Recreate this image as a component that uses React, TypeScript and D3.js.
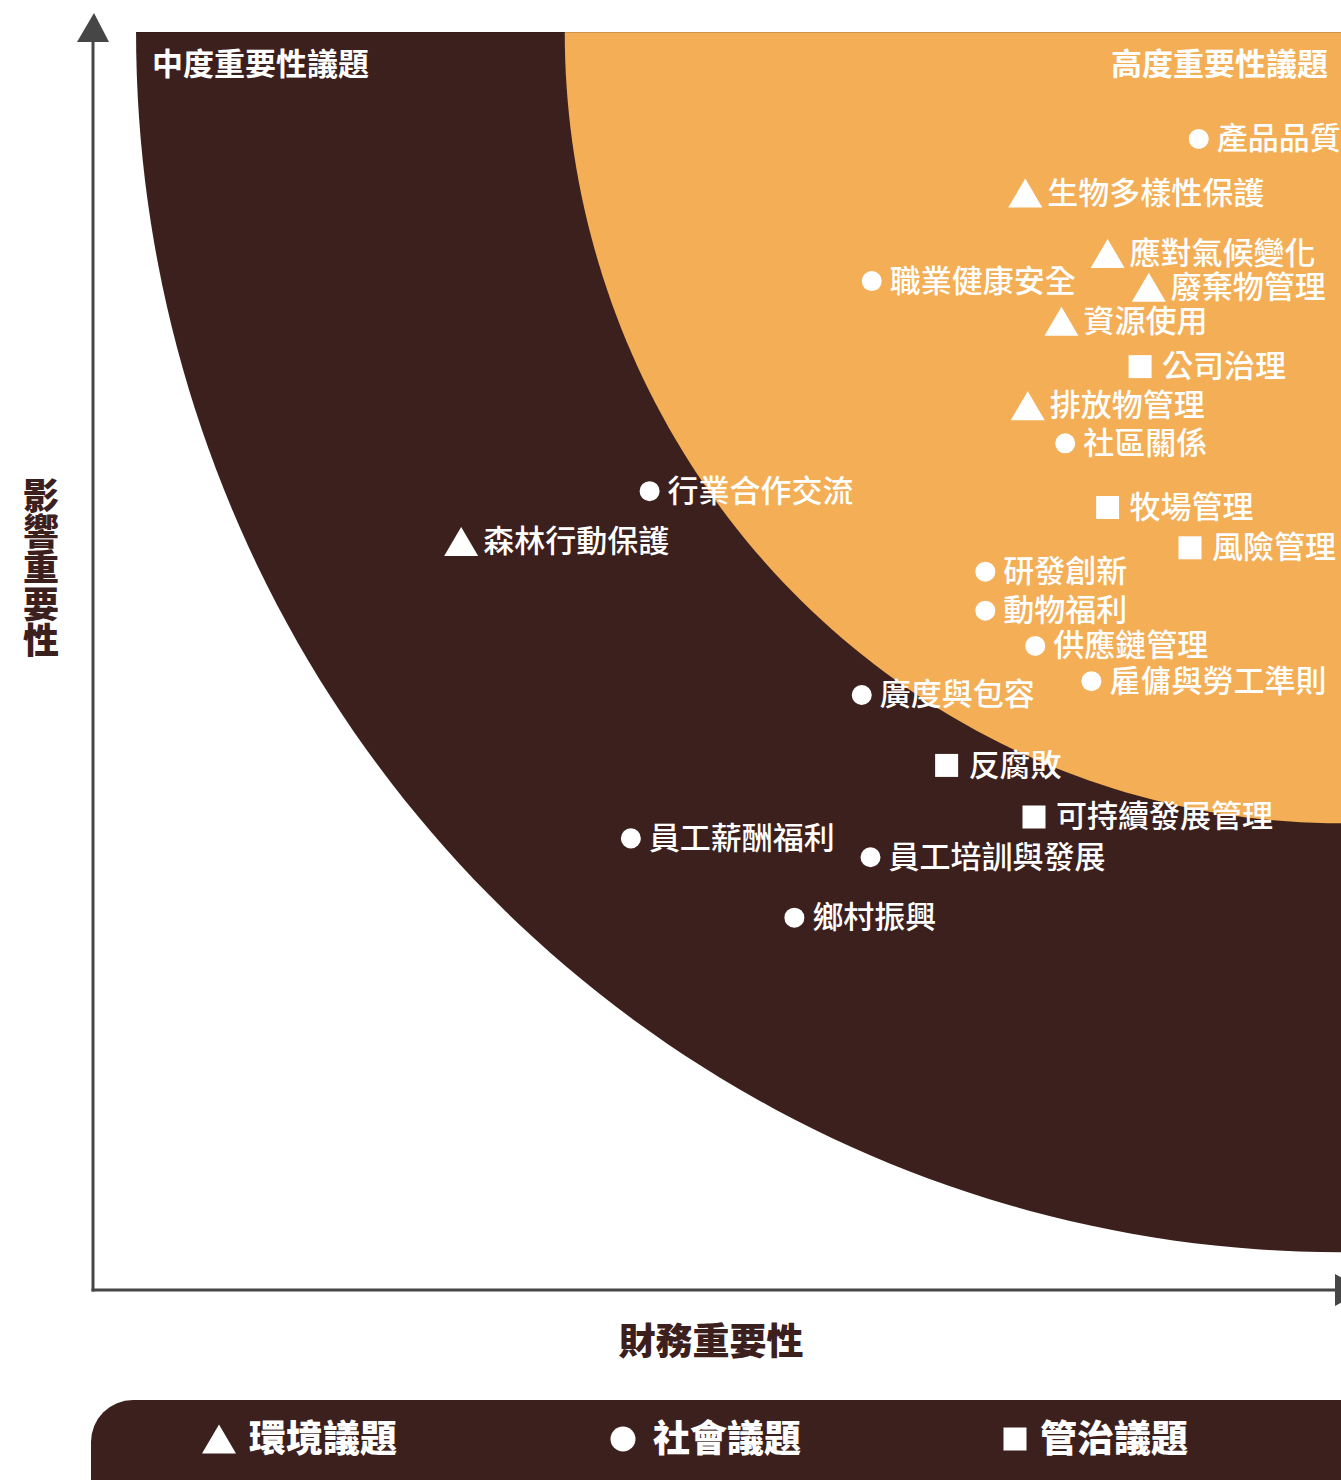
import { useEffect, useRef } from "react";
import * as d3 from "d3";

// topic names, type (env / soc / gov), financial materiality (x), impact materiality (y)
const topics = [
  "產品品質",
  "生物多樣性保護",
  "應對氣候變化",
  "職業健康安全",
  "廢棄物管理",
  "資源使用",
  "公司治理",
  "排放物管理",
  "社區關係",
  "行業合作交流",
  "森林行動保護",
  "牧場管理",
  "風險管理",
  "研發創新",
  "動物福利",
  "供應鏈管理",
  "雇傭與勞工準則",
  "廣度與包容",
  "反腐敗",
  "可持續發展管理",
  "員工薪酬福利",
  "員工培訓與發展",
  "鄉村振興",
];
const topicTypes = [
  "soc", "env", "env", "soc", "env", "env", "gov", "env", "soc", "soc", "env", "gov",
  "gov", "soc", "soc", "soc", "soc", "soc", "gov", "gov", "soc", "soc", "soc",
];
const financial = [
  8.86, 7.47, 8.13, 6.24, 8.46, 7.76, 8.39, 7.49, 7.79, 4.46, 2.95, 8.13,
  8.79, 7.15, 7.15, 7.55, 8.0, 6.16, 6.84, 7.54, 4.31, 6.23, 5.62,
];
const impact = [
  9.15, 8.72, 8.24, 8.02, 7.97, 7.7, 7.34, 7.03, 6.73, 6.35, 5.95, 6.22,
  5.9, 5.71, 5.4, 5.12, 4.84, 4.73, 4.17, 3.76, 3.59, 3.44, 2.96,
];

// zone boundaries (in axis units, measured from the top-right corner)
const zoneRadiusX = [9.655, 6.22];
const zoneRadiusY = [9.7, 6.29];
const zoneColors = ["#3c201d", "#f3ae56"];
const zoneTitles = ["中度重要性議題", "高度重要性議題"];

const legendLabels = ["環境議題", "社會議題", "管治議題"];
const legendTypes = ["env", "soc", "gov"];

const xTitle = "財務重要性";
const yTitle = "影響重要性";

const FONT = "'Noto Sans CJK TC', 'Noto Sans CJK SC', sans-serif";

// draws a marker shape centred on (cx, cy)
function markerPath(type: string, cx: number, cy: number, s: number) {
  if (type === "env") {
    const w = 17 * s;
    const h = 14.5 * s;
    return `M${cx - w},${cy + h}L${cx + w},${cy + h}L${cx},${cy - h}Z`;
  }
  if (type === "gov") {
    const h = 11.5 * s;
    return `M${cx - h},${cy - h}h${2 * h}v${2 * h}h${-2 * h}Z`;
  }
  const r = 10 * s;
  return `M${cx - r},${cy}a${r},${r} 0 1,0 ${2 * r},0a${r},${r} 0 1,0 ${-2 * r},0Z`;
}

const App: React.FC = () => {
  const ref = useRef<HTMLDivElement>(null);

  useEffect(() => {
    const W = 1341;
    const H = 1480;
    const left = 93;
    const top = 32;
    const bottom = 1290;
    const lift = 3; // glyphs sit a little low with central baseline

    const svg = d3
      .select(ref.current)
      .html("")
      .append("svg")
      .attr("width", W)
      .attr("height", H)
      .style("display", "block")
      .style("font-family", FONT);

    const x = d3.scaleLinear().domain([0, 10]).range([left, W]);
    const y = d3.scaleLinear().domain([0, 10]).range([bottom, top]);

    svg
      .append("clipPath")
      .attr("id", "plot-clip")
      .append("rect")
      .attr("x", left)
      .attr("y", top)
      .attr("width", W - left)
      .attr("height", bottom - top);

    // materiality zones: quarter ellipses around the top-right corner
    const zones = svg.append("g").attr("clip-path", "url(#plot-clip)");
    zoneColors.forEach((color, zi) => {
      const angles = d3.range(0, 91).map((d) => (d / 180) * Math.PI);
      const pts: [number, number][] = angles.map((a) => [
        x(10 - zoneRadiusX[zi] * Math.cos(a)),
        y(10 - zoneRadiusY[zi] * Math.sin(a)),
      ]);
      pts.push([x(10), y(10)]);
      zones
        .append("path")
        .attr("d", d3.line()(pts) + "Z")
        .attr("fill", color);
    });
    zones
      .append("line")
      .attr("x1", x(10 - zoneRadiusX[0]))
      .attr("x2", W)
      .attr("y1", top + 0.5)
      .attr("y2", top + 0.5)
      .attr("stroke", "rgba(0,0,0,0.15)");

    // zone titles
    svg
      .append("text")
      .attr("x", 152)
      .attr("y", 64 - lift)
      .attr("dominant-baseline", "central")
      .attr("fill", "#fff")
      .attr("font-size", 31)
      .attr("font-weight", 700)
      .text(zoneTitles[0]);
    svg
      .append("text")
      .attr("x", 1328)
      .attr("y", 64 - lift)
      .attr("text-anchor", "end")
      .attr("dominant-baseline", "central")
      .attr("fill", "#fff")
      .attr("font-size", 31)
      .attr("font-weight", 700)
      .text(zoneTitles[1]);

    // axes with arrow heads
    const axisColor = "#464646";
    svg
      .append("line")
      .attr("x1", left)
      .attr("x2", left)
      .attr("y1", 40)
      .attr("y2", bottom + 1.5)
      .attr("stroke", axisColor)
      .attr("stroke-width", 3);
    svg
      .append("line")
      .attr("x1", left - 1.5)
      .attr("x2", 1336)
      .attr("y1", bottom)
      .attr("y2", bottom)
      .attr("stroke", axisColor)
      .attr("stroke-width", 3);
    svg
      .append("path")
      .attr("d", `M${left - 16},42L${left + 16},42L${left + 1},13Z`)
      .attr("fill", axisColor);
    svg
      .append("path")
      .attr("d", `M1335,${bottom - 16}L1335,${bottom + 16}L1364,${bottom}Z`)
      .attr("fill", axisColor);

    // axis titles
    svg
      .append("text")
      .attr("x", 711)
      .attr("y", 1342 - lift)
      .attr("text-anchor", "middle")
      .attr("dominant-baseline", "central")
      .attr("fill", "#3c201d")
      .attr("font-size", 37)
      .attr("font-weight", 900)
      .text(xTitle);
    svg
      .append("text")
      .attr("x", 41)
      .attr("y", 477)
      .style("writing-mode", "vertical-rl")
      .style("text-orientation", "upright")
      .attr("letter-spacing", 0.4)
      .attr("fill", "#3c201d")
      .attr("font-size", 36)
      .attr("font-weight", 900)
      .text(yTitle);

    // topics
    const items = topics.map((name, i) => ({
      name,
      type: topicTypes[i],
      fx: financial[i],
      iy: impact[i],
    }));
    const pts = svg.append("g");
    pts
      .selectAll("path")
      .data(items)
      .enter()
      .append("path")
      .attr("d", (d) => markerPath(d.type, x(d.fx), y(d.iy), 1))
      .attr("fill", "#fff");
    pts
      .selectAll("text")
      .data(items)
      .enter()
      .append("text")
      .attr("x", (d) => x(d.fx) + (d.type === "soc" ? 18 : 22))
      .attr("y", (d) => y(d.iy) - lift)
      .attr("dominant-baseline", "central")
      .attr("fill", "#fff")
      .attr("font-size", 31)
      .attr("font-weight", 500)
      .text((d) => d.name);

    // legend bar
    svg
      .append("rect")
      .attr("x", 91)
      .attr("y", 1400)
      .attr("width", W + 100)
      .attr("height", 140)
      .attr("rx", 42)
      .attr("fill", "#3c201d");
    const lx = d3.scalePoint<string>().domain(legendLabels).range([219, 1027]);
    const nudge = [0, 0, -12];
    const legend = svg
      .append("g")
      .selectAll("g")
      .data(legendLabels)
      .enter()
      .append("g");
    legend
      .append("path")
      .attr("d", (d, i) =>
        markerPath(legendTypes[i], lx(d)! + nudge[i], 1439, i === 1 ? 1.25 : 1)
      )
      .attr("fill", "#fff");
    legend
      .append("text")
      .attr("x", (d, i) => lx(d)! + nudge[i] + (i === 2 ? 25 : 30))
      .attr("y", 1439 - lift)
      .attr("dominant-baseline", "central")
      .attr("fill", "#fff")
      .attr("font-size", 37)
      .attr("font-weight", 900)
      .text((d) => d);
  }, []);

  return <div ref={ref} style={{ position: "absolute", left: 0, top: 0 }}></div>;
};

export default App;
